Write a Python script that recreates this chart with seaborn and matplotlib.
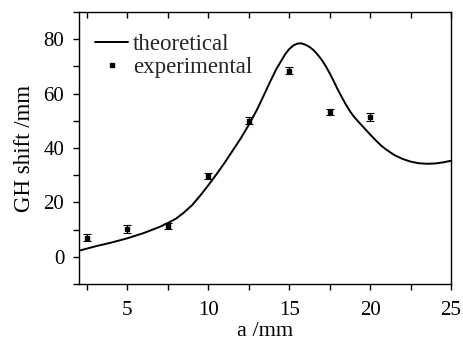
import numpy as np
import pandas as pd
import matplotlib
matplotlib.use('Agg')
import matplotlib.pyplot as plt
import seaborn as sns
from matplotlib.ticker import MultipleLocator
from matplotlib.lines import Line2D

# theoretical curve
theo_a = [2.0, 3.0, 4.0, 5.0, 6.0, 7.0, 7.5, 8.0, 8.5, 9.0, 9.5, 10.0, 10.5, 11.0,
          11.5, 12.0, 12.5, 13.0, 13.4, 13.75, 14.2, 14.5, 14.75, 15.0, 15.25,
          15.5, 15.75, 16.0, 16.25, 16.5, 16.75, 17.0, 17.25, 17.5, 17.75, 18.0,
          18.25, 18.5, 18.75, 19.0, 19.5, 20.0, 20.35, 20.7, 21.0, 21.5, 22.0,
          22.5, 23.0, 23.5, 24.0, 24.5, 25.0]
theo_shift = [2.2, 3.8, 5.2, 6.8, 8.7, 11.0, 12.4, 14.0, 16.3, 19.0, 22.5, 26.3, 30.3,
              34.5, 39.0, 43.5, 48.5, 54.0, 59.0, 63.5, 69.0, 72.0, 74.5, 76.4, 77.7,
              78.4, 78.5, 78.0, 77.2, 76.0, 74.4, 72.5, 70.2, 67.5, 64.6, 61.5,
              58.7, 56.0, 53.6, 51.5, 48.2, 45.0, 42.8, 40.8, 39.4, 37.4, 36.0,
              35.0, 34.4, 34.2, 34.3, 34.7, 35.3]

# experimental points
exp_a = [2.5, 5.0, 7.5, 10.0, 12.5, 15.0, 17.5, 20.0]
exp_shift = [7.0, 10.2, 11.3, 29.8, 50.0, 68.5, 53.3, 51.3]
exp_err = [1.2, 1.3, 1.0, 1.1, 1.3, 1.3, 1.1, 1.4]

theo = pd.DataFrame({'a': theo_a, 'shift': theo_shift})
exp = pd.DataFrame({'a': exp_a, 'shift': exp_shift, 'err': exp_err})

sns.set_theme(style='ticks')
plt.rcParams['font.family'] = ['Liberation Serif', 'DejaVu Serif']

fig = plt.figure(figsize=(4.64, 3.45), dpi=100)
ax = fig.add_axes([0.170, 0.177, 0.802, 0.788])

sns.lineplot(data=theo, x='a', y='shift', color='black', lw=1.4, ax=ax,
             legend=False)
ax.errorbar(exp['a'], exp['shift'], yerr=exp['err'], fmt='s', ms=2.5,
            color='black', ecolor='black', elinewidth=0.8, capsize=3,
            capthick=0.8)

ax.set_xlim(2, 25)
ax.set_ylim(-10, 90)
ax.xaxis.set_major_locator(MultipleLocator(5))
ax.xaxis.set_minor_locator(MultipleLocator(2.5))
ax.set_yticks([0, 20, 40, 60, 80])
ax.yaxis.set_minor_locator(MultipleLocator(10))

ax.tick_params(axis='both', which='major', labelsize=15, length=4, width=1,
               color='black', labelcolor='black', direction='out')
ax.tick_params(axis='both', which='minor', length=4, width=1, color='black',
               direction='out')
ax.tick_params(axis='x', which='major', pad=8)
ax.tick_params(axis='y', which='major', pad=6.5)

# top ticks point inward
top = ax.twiny()
top.set_xlim(ax.get_xlim())
top.xaxis.set_major_locator(MultipleLocator(2.5))
top.tick_params(axis='x', which='major', direction='in', length=4, width=1,
                color='black', top=True, bottom=False, labeltop=False)
for s in top.spines.values():
    s.set_visible(False)

for s in ax.spines.values():
    s.set_visible(True)
    s.set_color('black')
    s.set_linewidth(1)

ax.set_xlabel('a /mm', fontsize=16, color='black', labelpad=1.5)
ax.set_ylabel('GH shift /mm', fontsize=16.5, color='black', labelpad=6)

handles = [Line2D([], [], color='black', lw=1.4),
           Line2D([], [], color='black', marker='s', ms=2.5, ls='none')]
ax.legend(handles, ['theoretical', 'experimental'], loc='upper left',
          frameon=False, fontsize=16.5, handlelength=1.45, handletextpad=0.2,
          labelspacing=0.1, borderaxespad=0.3, bbox_to_anchor=(0.0, 0.98))

fig.savefig('out.png', dpi=100)
